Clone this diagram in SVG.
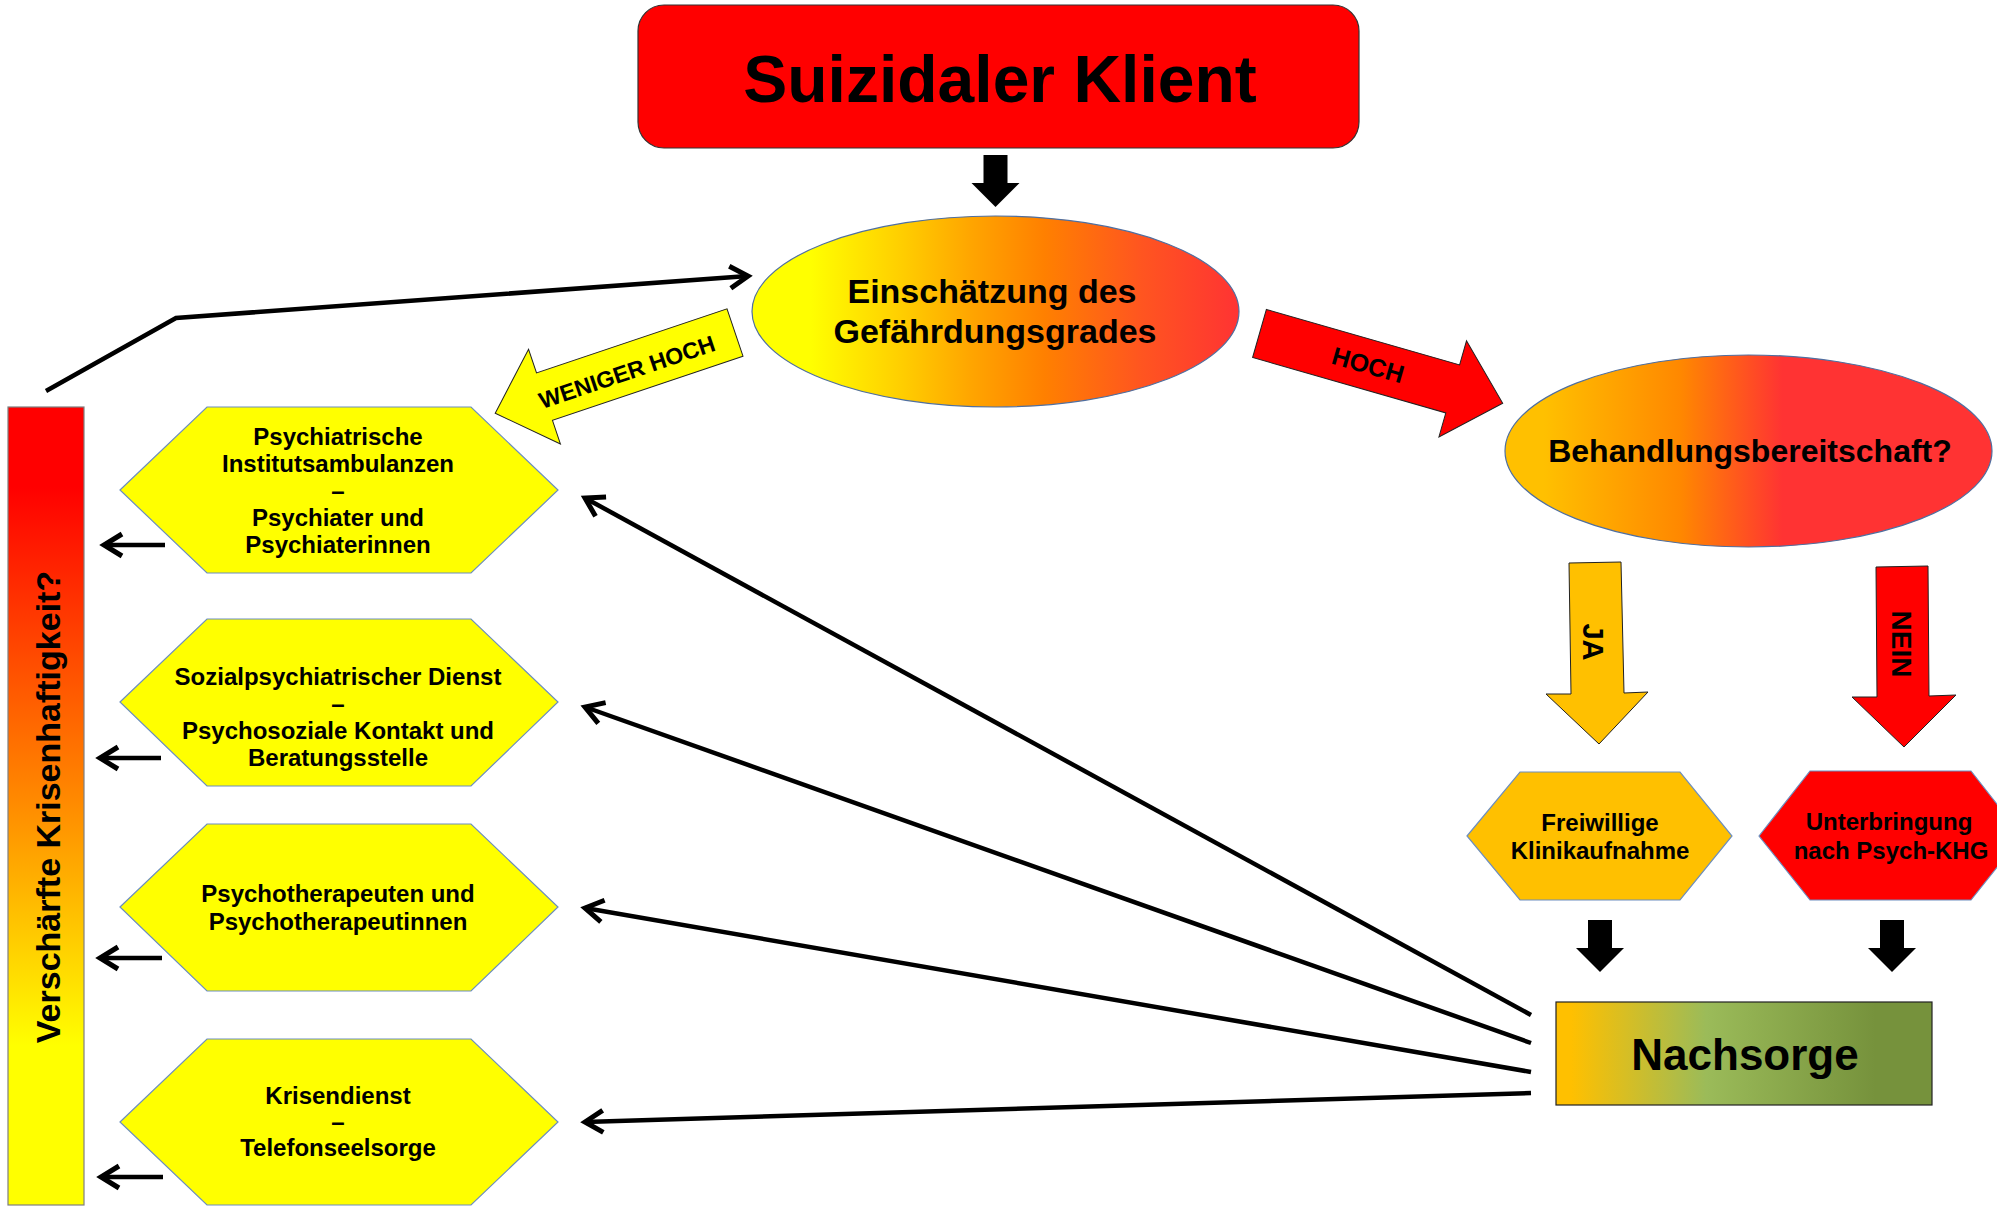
<svg xmlns="http://www.w3.org/2000/svg" width="1997" height="1211" viewBox="0 0 1997 1211">
<style>
text{font-family:"Liberation Sans",Arial,sans-serif;font-weight:bold;fill:#000;text-anchor:middle}
.hex{fill:#FFFF00;stroke:#6C8EBF;stroke-width:1.2}
.ln{fill:none;stroke:#000;stroke-width:4.5}
.blk{fill:#000}
.ht{font-size:24px}
</style>
<defs>
<linearGradient id="g1" x1="0" y1="0" x2="1" y2="0">
<stop offset="0" stop-color="#FFFF00"/><stop offset="0.12" stop-color="#FFFF00"/><stop offset="0.3" stop-color="#FFD000"/><stop offset="0.45" stop-color="#FFA500"/><stop offset="0.6" stop-color="#FF8000"/><stop offset="0.8" stop-color="#FF5520"/><stop offset="1" stop-color="#FF3333"/>
</linearGradient>
<linearGradient id="g2" x1="0" y1="0" x2="1" y2="0">
<stop offset="0" stop-color="#FFC000"/><stop offset="0.08" stop-color="#FFC000"/><stop offset="0.36" stop-color="#FF8800"/><stop offset="0.57" stop-color="#FF3333"/><stop offset="1" stop-color="#FF3333"/>
</linearGradient>
<linearGradient id="g3" x1="0" y1="0" x2="1" y2="0">
<stop offset="0" stop-color="#FFC000"/><stop offset="0.04" stop-color="#FFC000"/><stop offset="0.4" stop-color="#9BBB59"/><stop offset="0.85" stop-color="#76923C"/><stop offset="1" stop-color="#76923C"/>
</linearGradient>
<linearGradient id="g4" x1="0" y1="0" x2="0" y2="1">
<stop offset="0" stop-color="#FF0000"/><stop offset="0.1" stop-color="#FF0000"/><stop offset="0.5" stop-color="#FF8C00"/><stop offset="0.8" stop-color="#FFFF00"/><stop offset="1" stop-color="#FFFF00"/>
</linearGradient>
<marker id="chev" markerUnits="userSpaceOnUse" markerWidth="40" markerHeight="40" viewBox="-30 -20 40 40" refX="0" refY="0" orient="auto">
<path d="M-18,-11 L0,0 L-18,11" fill="none" stroke="#000" stroke-width="5"/>
</marker>
<polygon id="barrow" points="0,-25 201,-25 201,-50 253,0 201,50 201,25 0,25"/>
<polygon id="darrow" points="-12,0 12,0 12,28 24,28 0,52 -24,28 -12,28"/>
</defs>

<g id="connectors">
<polyline class="ln" points="46,391 176,318 748,276" marker-end="url(#chev)"/>
<line class="ln" x1="1531" y1="1015" x2="585" y2="498" marker-end="url(#chev)"/>
<line class="ln" x1="1531" y1="1043" x2="585" y2="707" marker-end="url(#chev)"/>
<line class="ln" x1="1531" y1="1072" x2="585" y2="908" marker-end="url(#chev)"/>
<line class="ln" x1="1531" y1="1093" x2="585" y2="1122" marker-end="url(#chev)"/>
<line class="ln" x1="165" y1="545" x2="104" y2="545" marker-end="url(#chev)"/>
<line class="ln" x1="161" y1="758" x2="100" y2="758" marker-end="url(#chev)"/>
<line class="ln" x1="162" y1="958" x2="100" y2="958" marker-end="url(#chev)"/>
<line class="ln" x1="163" y1="1177" x2="101" y2="1177" marker-end="url(#chev)"/>
<use href="#darrow" class="blk" x="995.5" y="155"/>
<use href="#darrow" class="blk" x="1600" y="920"/>
<use href="#darrow" class="blk" x="1892" y="920"/>
<g id="arrow-hoch">
<use href="#barrow" transform="translate(1259.5,333.5) rotate(16)" fill="#FF0000" stroke="#222" stroke-width="1"/>
<text transform="translate(1259.5,333.5) rotate(16) translate(113,9)" font-size="25">HOCH</text>
</g>
<g id="arrow-weniger">
<use href="#barrow" transform="translate(735,332.5) rotate(161.4)" fill="#FFFF00" stroke="#222" stroke-width="1"/>
<text transform="translate(627,372) rotate(-18.6) translate(0,8)" font-size="23">WENIGER HOCH</text>
</g>
<g id="arrow-ja">
<polygon points="1569,563 1621,562 1624,693 1648,692 1599,744 1546,694 1571,694" fill="#FFC000" stroke="#222" stroke-width="1"/>
<text transform="translate(1593,642) rotate(90) translate(0,10)" font-size="29">JA</text>
</g>
<g id="arrow-nein">
<polygon points="1876,567 1928,566 1929,696 1956,695 1904,747 1852,697 1877,697" fill="#FF0000" stroke="#222" stroke-width="1"/>
<text transform="translate(1902,644) rotate(90) translate(0,10)" font-size="28">NEIN</text>
</g>
</g>

<g id="suizidaler-klient">
<rect x="638" y="5" width="721" height="143" rx="26" ry="26" fill="#FF0000" stroke="#333" stroke-width="1.2"/>
<text x="1000" y="102" font-size="66">Suizidaler Klient</text>
</g>

<g id="einschaetzung">
<ellipse cx="995.5" cy="311.5" rx="243.5" ry="95.5" fill="url(#g1)" stroke="#4F6FA0" stroke-width="1.2"/>
<text x="992" y="303" font-size="34">Einschätzung des</text>
<text x="995" y="343" font-size="34">Gefährdungsgrades</text>
</g>

<g id="behandlung">
<ellipse cx="1748.5" cy="451" rx="243.5" ry="96" fill="url(#g2)" stroke="#4F6FA0" stroke-width="1.2"/>
<text x="1750" y="462" font-size="32">Behandlungsbereitschaft?</text>
</g>

<g id="krisenhaftigkeit">
<rect x="8" y="407" width="76" height="798" fill="url(#g4)" stroke="#7F7F7F" stroke-width="1.2"/>
<text transform="translate(60,807) rotate(-90)" font-size="34">Verschärfte Krisenhaftigkeit?</text>
</g>

<g id="hex-psychiatrische">
<polygon class="hex" points="120,490 207,407 471,407 558,490 471,573 207,573"/>
<text class="ht" x="338" y="445">Psychiatrische</text>
<text class="ht" x="338" y="472">Institutsambulanzen</text>
<text class="ht" x="338" y="499">–</text>
<text class="ht" x="338" y="526">Psychiater und</text>
<text class="ht" x="338" y="553">Psychiaterinnen</text>
</g>

<g id="hex-sozialpsychiatrisch">
<polygon class="hex" points="120,702 207,619 471,619 558,702 471,786 207,786"/>
<text class="ht" x="338" y="685">Sozialpsychiatrischer Dienst</text>
<text class="ht" x="338" y="712">–</text>
<text class="ht" x="338" y="739">Psychosoziale Kontakt und</text>
<text class="ht" x="338" y="766">Beratungsstelle</text>
</g>

<g id="hex-psychotherapeuten">
<polygon class="hex" points="120,907 207,824 471,824 558,907 471,991 207,991"/>
<text class="ht" x="338" y="902">Psychotherapeuten und</text>
<text class="ht" x="338" y="930">Psychotherapeutinnen</text>
</g>

<g id="hex-krisendienst">
<polygon class="hex" points="120,1122 207,1039 471,1039 558,1122 471,1205 207,1205"/>
<text class="ht" x="338" y="1104">Krisendienst</text>
<text class="ht" x="338" y="1130">–</text>
<text class="ht" x="338" y="1156">Telefonseelsorge</text>
</g>

<g id="hex-freiwillige">
<polygon points="1467,836 1520,772 1680,772 1732,836 1680,900 1520,900" fill="#FFC000" stroke="#6C8EBF" stroke-width="1.2"/>
<text class="ht" x="1600" y="831">Freiwillige</text>
<text class="ht" x="1600" y="859">Klinikaufnahme</text>
</g>

<g id="hex-unterbringung">
<polygon points="1759,836 1810,771 1971,771 2022,836 1971,900 1810,900" fill="#FF0000" stroke="#6C8EBF" stroke-width="1.2"/>
<text class="ht" x="1889" y="830">Unterbringung</text>
<text class="ht" x="1891" y="859">nach Psych-KHG</text>
</g>

<g id="nachsorge">
<rect x="1556" y="1002" width="376" height="103" fill="url(#g3)" stroke="#222" stroke-width="1.2"/>
<text x="1745" y="1070" font-size="44">Nachsorge</text>
</g>
</svg>
